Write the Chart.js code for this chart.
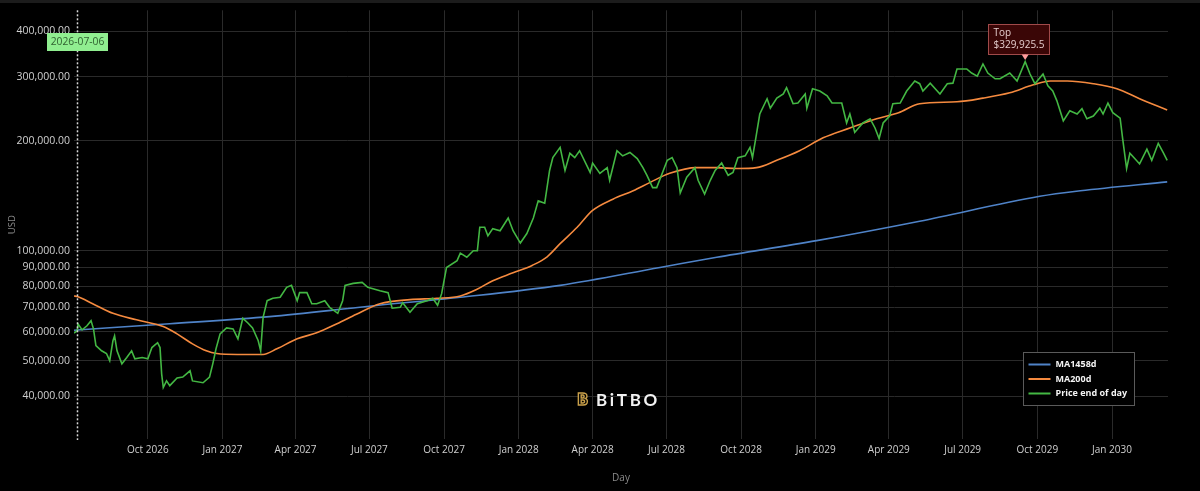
<!DOCTYPE html>
<html lang="en">
<head>
<meta charset="UTF-8">
<title>Price end of day, MA200d, MA1458d</title>
<script src="https://cdn.jsdelivr.net/npm/chart.js"></script>
<style>
    html, body {
        margin: 0;
        padding: 0;
        background: #000;
    }
    #wrap {
        width: 1200px;
        height: 491px;
    }
</style>
</head>
<body>
<div id="wrap"><canvas id="chart" width="1200" height="491"></canvas></div>
<script>
// day 0 = 2026-07-06 (the date shown on the spike label)
const startDate = '2026-07-06';

const tickDates = ['2026-10-01', '2027-01-01', '2027-04-01', '2027-07-01', '2027-10-01', '2028-01-01', '2028-04-01',
    '2028-07-01', '2028-10-01', '2029-01-01', '2029-04-01', '2029-07-01', '2029-10-01', '2030-01-01'];
const tickLabels = ['Oct 2026', 'Jan 2027', 'Apr 2027', 'Jul 2027', 'Oct 2027', 'Jan 2028', 'Apr 2028',
    'Jul 2028', 'Oct 2028', 'Jan 2029', 'Apr 2029', 'Jul 2029', 'Oct 2029', 'Jan 2030'];
const yTicks = [40000, 50000, 60000, 70000, 80000, 90000, 100000, 200000, 300000, 400000];

// Price end of day (days since start, USD)
const priceDays = [-4, 0, 1, 6, 12, 17, 20, 23, 30, 36, 40, 44, 46, 49, 55, 61, 67, 71, 80, 87, 92, 99, 102, 104, 106,
    110, 114, 123, 130, 139, 142, 155, 163, 167, 171, 176, 184, 192, 198, 204, 210, 216, 223, 226, 229, 234, 241,
    250, 258, 264, 271, 274, 283, 289, 295, 305, 311, 321, 327, 330, 340, 351, 358, 373, 383, 388, 398, 401, 410,
    419, 431, 438, 444, 449, 455, 468, 472, 480, 488, 493, 496, 502, 506, 512, 521, 531, 537, 546, 554, 562, 568,
    576, 582, 586, 595, 601, 607, 613, 619, 632, 635, 644, 653, 656, 665, 672, 681, 690, 697, 702, 709, 714, 727,
    733, 739, 743, 751, 761, 765, 773, 780, 786, 794, 802, 808, 814, 823, 829, 832, 836, 841, 850, 854, 862, 870,
    874, 882, 888, 897, 899, 906, 915, 924, 930, 942, 948, 952, 958, 968, 977, 983, 988, 993, 1001, 1005, 1014,
    1022, 1032, 1038, 1042, 1051, 1063, 1072, 1079, 1084, 1096, 1102, 1109, 1116, 1122, 1131, 1137, 1149, 1158,
    1168, 1174, 1180, 1190, 1196, 1202, 1207, 1215, 1223, 1232, 1238, 1244, 1252, 1260, 1264, 1270, 1276, 1285,
    1288, 1293, 1297, 1303, 1309, 1318, 1324, 1332, 1338, 1343];
const priceValues = [59500, 60400, 63000, 60700, 62300, 64300, 61100, 55000, 53200, 52300, 50000, 56700, 58500,
    53200, 49000, 51000, 53200, 50600, 51000, 50600, 54300, 56000, 54300, 46000, 42200, 44000, 42700, 44800, 45100,
    46900, 44000, 43500, 45100, 49000, 53900, 59200, 61500, 61100, 57400, 65300, 63500, 61500, 56700, 53200, 65700,
    73000, 74100, 74600, 79400, 80400, 73000, 76800, 76800, 71600, 71600, 73000, 70000, 67400, 73000, 80400, 81400,
    81900, 79400, 77700, 76800, 69600, 70000, 72100, 67900, 71600, 73000, 74100, 70900, 76300, 90000, 94000, 98500,
    96000, 100000, 100000, 116000, 116000, 110000, 115000, 113500, 123000, 113500, 105000, 111500, 123000, 137000,
    135000, 166000, 180000, 192000, 166000, 185000, 180000, 188000, 164000, 174000, 163000, 169000, 156000, 188000,
    182000, 186000, 179000, 169000, 161000, 149000, 149000, 177000, 180000, 169000, 144000, 159000, 169000, 156000,
    143000, 156000, 166000, 174000, 161000, 164000, 180000, 182000, 192000, 180000, 203000, 237000, 261000, 246000,
    262000, 269000, 280000, 253000, 254000, 269000, 246000, 278000, 274000, 266000, 254000, 254000, 224000, 237000,
    211000, 224000, 230000, 217000, 203000, 224000, 234000, 253000, 254000, 274000, 292000, 287000, 274000, 288000,
    269000, 287000, 288000, 315000, 315000, 307000, 301000, 325000, 307000, 296000, 296000, 307000, 292000,
    329925.5, 305000, 287000, 305000, 283000, 274000, 258000, 227000, 242000, 237000, 245000, 230000, 234000,
    246000, 237000, 254000, 239000, 231000, 204000, 168000, 185000, 179000, 173000, 190000, 177000, 197000, 186000,
    177000];

// MA200d
const ma200Days = [-4, 0, 19, 44, 73, 106, 123, 142, 159, 172, 197, 229, 246, 271, 295, 320, 344, 373, 410, 443, 472,
    492, 512, 537, 561, 579, 595, 616, 635, 660, 685, 706, 730, 763, 788, 813, 837, 862, 890, 919, 952, 985, 1012,
    1038, 1084, 1116, 1149, 1178, 1199, 1220, 1252, 1281, 1309, 1343];
const ma200Values = [75200, 74900, 71600, 67400, 64700, 62000, 59200, 55600, 53200, 52300, 52000, 52000, 53900,
    57400, 59600, 63100, 67000, 71600, 73500, 74100, 75200, 78300, 82800, 87000, 91300, 96300, 104600, 116000,
    129000, 138500, 146000, 154000, 163000, 169000, 169000, 168000, 169000, 177000, 188000, 204000, 217000, 230000,
    239000, 253000, 256000, 262000, 271000, 285000, 292000, 292000, 287000, 278000, 261000, 243000];

// MA1458d
const ma1458Days = [-4, 114, 237, 360, 472, 595, 718, 788, 911, 1038, 1186, 1236, 1343];
const ma1458Values = [60600, 63100, 66000, 70500, 74600, 80400, 90000, 96000, 106600, 120500, 141000, 146000, 154500];

const topLabel = 'Top';
const spikeLabel = '2026-07-06';

const DAY = 86400000;
const dayOf = d => (Date.parse(d) - Date.parse(startDate)) / DAY;
const tickDays = tickDates.map(dayOf);
const pts = (xs, ys) => xs.map((x, i) => ({ x: x, y: ys[i] }));

const FONT = 'Open Sans';

const overlay = {
    id: 'overlay',
    beforeDraw(chart) {
        const ctx = chart.ctx;
        ctx.save();
        ctx.fillStyle = '#000';
        ctx.fillRect(0, 0, chart.width, chart.height);
        ctx.fillStyle = '#1c1c1c';
        ctx.fillRect(0, 0, chart.width, 3);
        ctx.restore();
    },
    beforeDatasetsDraw(chart) {
        // watermark logo
        const ctx = chart.ctx;
        const a = chart.chartArea;
        const cx = (a.left + a.right) / 2 - 2;
        const cy = a.bottom - 39;
        ctx.save();
        ctx.font = 'bold 17px Lato';
        const w = ctx.measureText('BiTBO').width;
        const sp = Math.max(0, (64 - w) / 5);
        ctx.letterSpacing = sp + 'px';
        ctx.fillStyle = '#f2f2f2';
        ctx.textBaseline = 'middle';
        ctx.textAlign = 'left';
        ctx.fillText('BiTBO', cx - 23, cy + 1);
        ctx.letterSpacing = '0px';
        ctx.font = 'bold 15px DejaVu Sans';
        ctx.lineWidth = 1.4;
        ctx.strokeStyle = '#c9a04a';
        ctx.fillStyle = '#000';
        ctx.fillText('B', cx - 42, cy + 1);
        ctx.strokeText('B', cx - 42, cy + 1);
        ctx.restore();
    },
    afterDatasetsDraw(chart) {
        const ctx = chart.ctx;
        const a = chart.chartArea;
        const xs = chart.scales.x;
        const ys = chart.scales.y;

        // spike line
        const sx = Math.round(xs.getPixelForValue(0)) + 0.5;
        ctx.save();
        ctx.strokeStyle = '#d8d8d8';
        ctx.lineWidth = 1.5;
        ctx.setLineDash([2, 2]);
        ctx.beginPath();
        ctx.moveTo(sx, a.top);
        ctx.lineTo(sx, a.bottom + 1);
        ctx.stroke();
        ctx.setLineDash([]);

        // spike label
        ctx.fillStyle = '#90ee90';
        ctx.fillRect(sx - 30.5, 33, 61, 18);
        ctx.fillStyle = '#2f5f2f';
        ctx.font = '10.3px ' + FONT;
        ctx.textAlign = 'center';
        ctx.textBaseline = 'middle';
        ctx.fillText(spikeLabel, sx, 42.5);

        // top annotation
        let iMax = 0;
        priceValues.forEach((v, i) => { if (v > priceValues[iMax]) iMax = i; });
        const px = xs.getPixelForValue(priceDays[iMax]);
        const py = ys.getPixelForValue(priceValues[iMax]);
        const bx = Math.round(px - 37) + 0.5, by = Math.round(py - 38) + 0.5;
        ctx.fillStyle = '#3a0606';
        ctx.strokeStyle = '#a04a4a';
        ctx.lineWidth = 1;
        ctx.fillRect(bx, by, 61, 30);
        ctx.strokeRect(bx, by, 61, 30);
        ctx.fillStyle = '#e4cccc';
        ctx.textAlign = 'left';
        ctx.font = '10px ' + FONT;
        ctx.fillText(topLabel, bx + 5, by + 9);
        ctx.fillText('$' + priceValues[iMax].toLocaleString('en-US', { maximumFractionDigits: 1 }), bx + 5, by + 21);
        ctx.fillStyle = '#ff9c9c';
        ctx.beginPath();
        ctx.moveTo(px - 3.5, py - 7);
        ctx.lineTo(px + 3.5, py - 7);
        ctx.lineTo(px, py - 1.5);
        ctx.closePath();
        ctx.fill();
        ctx.strokeStyle = '#ff9c9c';
        ctx.beginPath();
        ctx.moveTo(px, by + 30);
        ctx.lineTo(px, py - 6);
        ctx.stroke();

        // legend
        const lw = 111, lh = 53;
        const lx = Math.round(a.right - 34 - lw) + 0.5;
        const ly = Math.round(a.bottom - 34 - lh) + 0.5;
        ctx.fillStyle = '#000';
        ctx.fillRect(lx, ly, lw, lh);
        ctx.strokeStyle = '#5a5a5a';
        ctx.strokeRect(lx, ly, lw, lh);
        const order = [2, 1, 0];
        order.forEach((di, k) => {
            const ds = chart.data.datasets[di];
            const ry = ly + 12 + k * 14.5;
            ctx.strokeStyle = ds.borderColor;
            ctx.lineWidth = 2;
            ctx.beginPath();
            ctx.moveTo(lx + 5, ry);
            ctx.lineTo(lx + 27, ry);
            ctx.stroke();
            ctx.fillStyle = '#f4f4f4';
            ctx.font = 'bold 9px ' + FONT;
            ctx.textAlign = 'left';
            ctx.textBaseline = 'middle';
            ctx.fillText(ds.label, lx + 32, ry);
        });
        ctx.restore();
    }
};

new Chart(document.getElementById('chart'), {
    type: 'line',
    data: {
        datasets: [
            {
                label: 'Price end of day',
                data: pts(priceDays, priceValues),
                borderColor: '#43b743',
                borderWidth: 1.6,
                order: 0
            },
            {
                label: 'MA200d',
                data: pts(ma200Days, ma200Values),
                borderColor: '#f58a3f',
                borderWidth: 1.6,
                cubicInterpolationMode: 'monotone',
                order: 1
            },
            {
                label: 'MA1458d',
                data: pts(ma1458Days, ma1458Values),
                borderColor: '#4f83c8',
                borderWidth: 1.6,
                cubicInterpolationMode: 'monotone',
                order: 2
            }
        ]
    },
    options: {
        responsive: false,
        animation: false,
        elements: { point: { radius: 0 }, line: { tension: 0 } },
        layout: { padding: { left: 0, right: 32, top: 9, bottom: 0 } },
        plugins: {
            legend: { display: false },
            tooltip: { enabled: false }
        },
        scales: {
            x: {
                type: 'linear',
                min: -4,
                max: 1344,
                afterFit(s) { s.height = 52; },
                afterBuildTicks(s) { s.ticks = tickDays.map(v => ({ value: v })); },
                ticks: {
                    color: '#cfcfcf',
                    font: { family: FONT, size: 10 },
                    padding: 5,
                    maxRotation: 0,
                    autoSkip: false,
                    callback: v => tickLabels[tickDays.indexOf(v)]
                },
                grid: { color: '#2a2a2a', drawTicks: false },
                border: { display: false },
                title: {
                    display: true,
                    text: 'Day',
                    color: '#8a8a8a',
                    font: { family: FONT, size: 10 },
                    padding: { top: 0, bottom: 7 }
                }
            },
            y: {
                type: 'logarithmic',
                min: 30500,
                max: 456000,
                afterFit(s) { s.width = 74; },
                afterBuildTicks(s) { s.ticks = yTicks.map(v => ({ value: v })); },
                ticks: {
                    color: '#cfcfcf',
                    font: { family: FONT, size: 10.5 },
                    padding: 4,
                    autoSkip: false,
                    callback: v => v.toLocaleString('en-US', { minimumFractionDigits: 2, maximumFractionDigits: 2 })
                },
                grid: { color: '#2a2a2a', drawTicks: false },
                border: { display: false },
                title: {
                    display: true,
                    text: 'USD',
                    color: '#8a8a8a',
                    font: { family: FONT, size: 9.5 },
                    padding: { top: 7, bottom: 0 }
                }
            }
        }
    },
    plugins: [overlay]
});
</script>
</body>
</html>
